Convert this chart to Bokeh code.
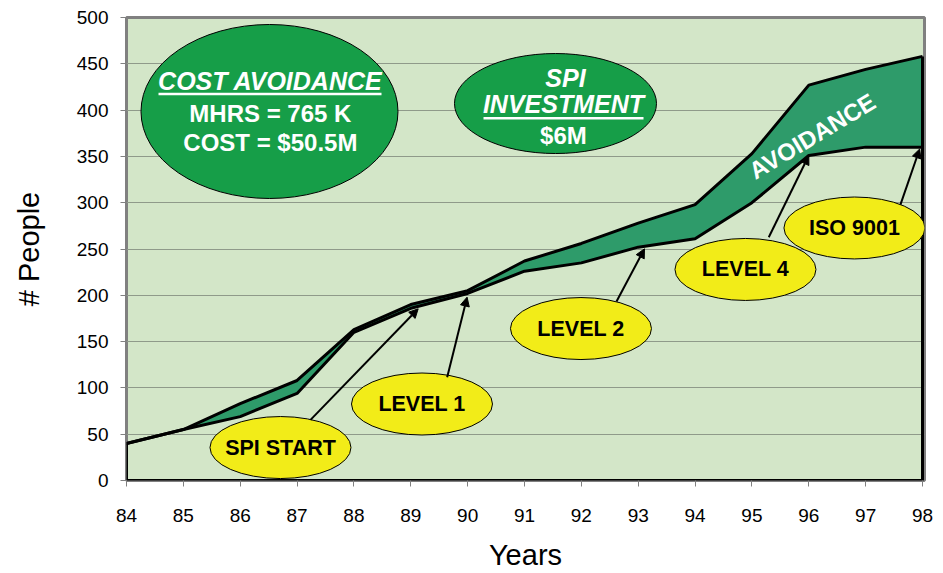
from bokeh.plotting import figure
from bokeh.models import Range1d, Arrow, NormalHead, FixedTicker
from bokeh.core.properties import value
from bokeh.embed import file_html
from bokeh.resources import INLINE

years = [84, 85, 86, 87, 88, 89, 90, 91, 92, 93, 94, 95, 96, 97, 98]
without_spi = [40, 55, 83, 108, 163, 190, 205, 237, 256, 278, 298, 353, 427, 444, 458]
with_spi = [40, 55, 69, 94, 160, 186, 202, 226, 235, 252, 261, 300, 351, 360, 360]
y_ticks = [0, 50, 100, 150, 200, 250, 300, 350, 400, 450, 500]
x_ticks = years

FONT = "Liberation Sans"

p = figure(width=935, height=573, output_backend="svg", toolbar_location=None,
           x_range=Range1d(84, 98.035), y_range=Range1d(0, 500),
           min_border_left=126, min_border_right=11, min_border_top=17, min_border_bottom=93)

p.background_fill_color = "#D3E6C8"
p.border_fill_color = "white"
p.outline_line_color = "#808080"
p.outline_line_width = 3

p.xgrid.visible = False
p.ygrid.grid_line_color = "#8F9A8A"
p.ygrid.grid_line_width = 1
p.yaxis.ticker = FixedTicker(ticks=y_ticks)
p.xaxis.ticker = FixedTicker(ticks=x_ticks)

for ax in (p.xaxis, p.yaxis):
    ax.axis_line_color = None
    ax.major_tick_line_color = "#808080"
    ax.major_tick_in = 0
    ax.major_tick_out = 6
    ax.minor_tick_line_color = None
    ax.major_label_text_font = FONT
    ax.major_label_text_font_size = "19px"
    ax.major_label_text_color = "black"
    ax.axis_label_text_font = FONT
    ax.axis_label_text_font_style = "normal"
    ax.axis_label_text_font_size = "29px"
    ax.axis_label_text_color = "black"

p.xaxis.axis_label = "Years"
p.yaxis.axis_label = "# People"
p.xaxis.major_label_standoff = 22
p.xaxis.axis_label_standoff = 14
p.yaxis.major_label_standoff = 12
p.yaxis.axis_label_standoff = 29

# avoidance band
p.varea(x=years, y1=with_spi, y2=without_spi, fill_color="#2E9B6A")
p.line(years, without_spi, line_color="black", line_width=3)
p.line(years, with_spi, line_color="black", line_width=3)
# area outline
p.line([years[0], years[0], years[-1], years[-1]],
       [with_spi[0], 0, 0, without_spi[-1]], line_color="black", line_width=3)

p.text(x=[96.06], y=[372], text=["AVOIDANCE"], angle=0.54, text_color="white",
       text_font=value(FONT), text_font_style="bold", text_font_size="24px",
       text_align="center", text_baseline="middle")

# big green ellipses
p.ellipse(x=[86.515, 91.545], y=[398.5, 407.1], width=[257, 202], height=[174, 100],
          width_units="screen", height_units="screen",
          fill_color="#169E48", line_color="black", line_width=1)

def label(x, y, t, size, style="bold", color="white"):
    p.text(x=[x], y=[y], text=[t], text_color=color, text_font=value(FONT),
           text_font_style=style, text_font_size=size,
           text_align="center", text_baseline="middle")

label(86.53, 431, "COST AVOIDANCE", "25px", "bold italic")
label(86.53, 396.3, "MHRS = 765 K", "24px")
label(86.53, 365.0, "COST = $50.5M", "24px")
p.line([84.563, 88.485], [417.4, 417.4], line_color="white", line_width=2.5)

label(91.72, 435.2, "SPI", "25px", "bold italic")
label(91.685, 407.1, "INVESTMENT", "25px", "bold italic")
label(91.685, 372.6, "$6M", "24px")
p.line([90.279, 93.093], [391.3, 391.3], line_color="white", line_width=2.5)

# yellow milestone ellipses
mx = [86.708, 89.197, 91.993, 94.886, 96.803]
my = [35.6, 82.6, 164.1, 227.9, 272.7]
mt = ["SPI START", "LEVEL 1", "LEVEL 2", "LEVEL 4", "ISO 9001"]
p.ellipse(x=mx, y=my, width=141, height=62, width_units="screen", height_units="screen",
          fill_color="#F2EC18", line_color="black", line_width=1)
for x, y, t in zip(mx, my, mt):
    label(x, y, t, "21.5px", "bold", "black")

arrows = [
    (87.236, 65.5, 89.13, 185.4),
    (89.64, 111.6, 89.99, 198.0),
    (92.618, 193.3, 93.11, 250.2),
    (95.296, 262.7, 96.0, 351.0),
    (97.612, 298.0, 97.95, 358.0),
]
for xs, ys, xe, ye in arrows:
    p.add_layout(Arrow(x_start=xs, y_start=ys, x_end=xe, y_end=ye, line_color="black",
                       line_width=2,
                       end=NormalHead(size=9, fill_color="black", line_color="black")))

open("out.html", "w").write(file_html(p, INLINE))
